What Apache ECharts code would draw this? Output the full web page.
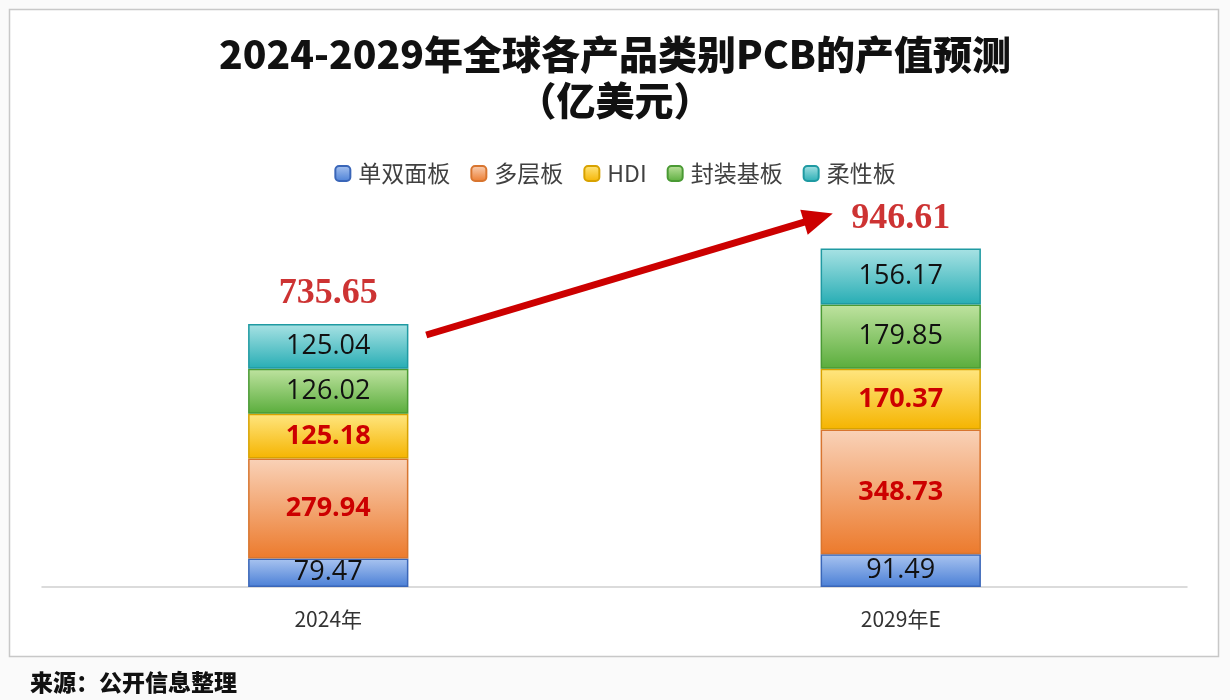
<!DOCTYPE html>
<html><head><meta charset="utf-8">
<script src="https://cdn.jsdelivr.net/npm/echarts@6/dist/echarts.min.js"></script>
<style>html,body{margin:0;padding:0;background:#fafafa}#c{width:1230px;height:700px}</style>
</head><body><div id="c"></div>
<script>
const categories = ['2024年', '2029年E'];
const seriesNames = ['单双面板', '多层板', 'HDI', '封装基板', '柔性板'];
const singleDouble = [79.47, 91.49];
const multiLayer = [279.94, 348.73];
const hdi = [125.18, 170.37];
const substrate = [126.02, 179.85];
const flexible = [125.04, 156.17];
const totals = [735.65, 946.61];

const grad = (top, bottom) => ({type:'linear', x:0, y:0, x2:0, y2:1, colorStops:[{offset:0,color:top},{offset:1,color:bottom}]});
const styles = [
  {fill: grad('#a9c4f0', '#4a7fd6'), border: '#3a66b8', legend: '#4a78d0', label: '#111', bold: false},
  {fill: grad('#f9d2b8', '#ec7a2c'), border: '#d8752f', legend: '#ee8a44', label: '#cc0000', bold: true},
  {fill: grad('#ffe680', '#f5b400'), border: '#d8a200', legend: '#f8c020', label: '#cc0000', bold: true},
  {fill: grad('#bfe3a0', '#5aad3c'), border: '#4a9a34', legend: '#6abc4c', label: '#111', bold: false},
  {fill: grad('#a8e2e4', '#27adb4'), border: '#1f9aa2', legend: '#3cbcc2', label: '#111', bold: false}
];
const datasets = [singleDouble, multiLayer, hdi, substrate, flexible];

const chart = echarts.init(document.getElementById('c'), null, {renderer:'canvas'});
const barSeries = datasets.map((d, i) => ({
  name: seriesNames[i], type: 'bar', stack: 'total', data: d, barWidth: '28%',
  itemStyle: {color: styles[i].fill, borderColor: styles[i].border, borderWidth: 1.5},
  label: {show: true, position: 'inside', color: styles[i].label, fontSize: 27,
          fontWeight: styles[i].bold ? 'bold' : 'normal', fontFamily: 'Open Sans'},
  emphasis: {disabled: true}
}));

const option = {
  backgroundColor: '#fafafa',
  animation: false,
  color: styles.map(s => s.legend),
  title: {
    text: '2024-2029年全球各产品类别PCB的产值预测\n（亿美元）',
    left: 'center', top: 26,
    textStyle: {fontSize: 39, fontWeight: 900, color: '#111', lineHeight: 46, fontFamily: 'Noto Sans CJK SC'}
  },
  legend: {
    data: seriesNames, top: 157, left: 'center', itemWidth: 15, itemHeight: 15, itemGap: 20,
    icon: 'roundRect',
    textStyle: {fontSize: 23, color: '#404040', fontFamily: 'Noto Sans CJK SC', padding: [0,0,0,3]}
  },
  grid: {left: 42, right: 43, top: 229.5, bottom: 113},
  xAxis: {
    type: 'category', data: categories,
    axisLine: {lineStyle: {color: '#cfcfcf', width: 1.5}},
    axisTick: {show: false},
    axisLabel: {fontSize: 21, color: '#333', margin: 22, fontFamily: 'Noto Sans CJK SC'}
  },
  yAxis: {type: 'value', min: 0, max: 1000, show: false, splitLine: {show: false}},
  graphic: [
    {type: 'rect', shape: {x: 9.5, y: 9.5, width: 1209, height: 647}, style: {fill: '#ffffff', stroke: '#c8c8c8', lineWidth: 1.5}, z: -10},
    {type: 'text', left: 30, top: 671, style: {text: '来源：公开信息整理', fill: '#111', font: '900 23px "Noto Sans CJK SC"'}}
  ],
  series: barSeries.concat([{
    type: 'scatter', data: totals, symbolSize: 0, silent: true,
    label: {show: true, position: 'top', distance: 12, color: '#c00000', fontSize: 36, fontWeight: 'bold', fontFamily: 'Liberation Serif'}
  }])
};
chart.setOption(option);

// arrow annotation, anchored to the totals via the chart's own scales
const p0 = chart.convertToPixel({seriesIndex: 0}, [0, totals[0]]);
const p1 = chart.convertToPixel({seriesIndex: 0}, [1, totals[1]]);
const start = [p0[0] + 98, p0[1] + 11];
const tip = [p1[0] - 68, p1[1] - 35];
const dx = tip[0] - start[0], dy = tip[1] - start[1];
const len = Math.sqrt(dx*dx + dy*dy);
const ux = dx/len, uy = dy/len, nx = -uy, ny = ux;
const headLen = 30, headW = 13;
const base = [tip[0] - ux*headLen, tip[1] - uy*headLen];
chart.setOption({graphic: option.graphic.concat([
  {type: 'line', shape: {x1: start[0], y1: start[1], x2: base[0] + ux*2, y2: base[1] + uy*2}, style: {stroke: '#cc0000', lineWidth: 7}},
  {type: 'polygon', shape: {points: [tip, [base[0] + nx*headW, base[1] + ny*headW], [base[0] - nx*headW, base[1] - ny*headW]]}, style: {fill: '#cc0000'}}
])});
</script></body></html>
